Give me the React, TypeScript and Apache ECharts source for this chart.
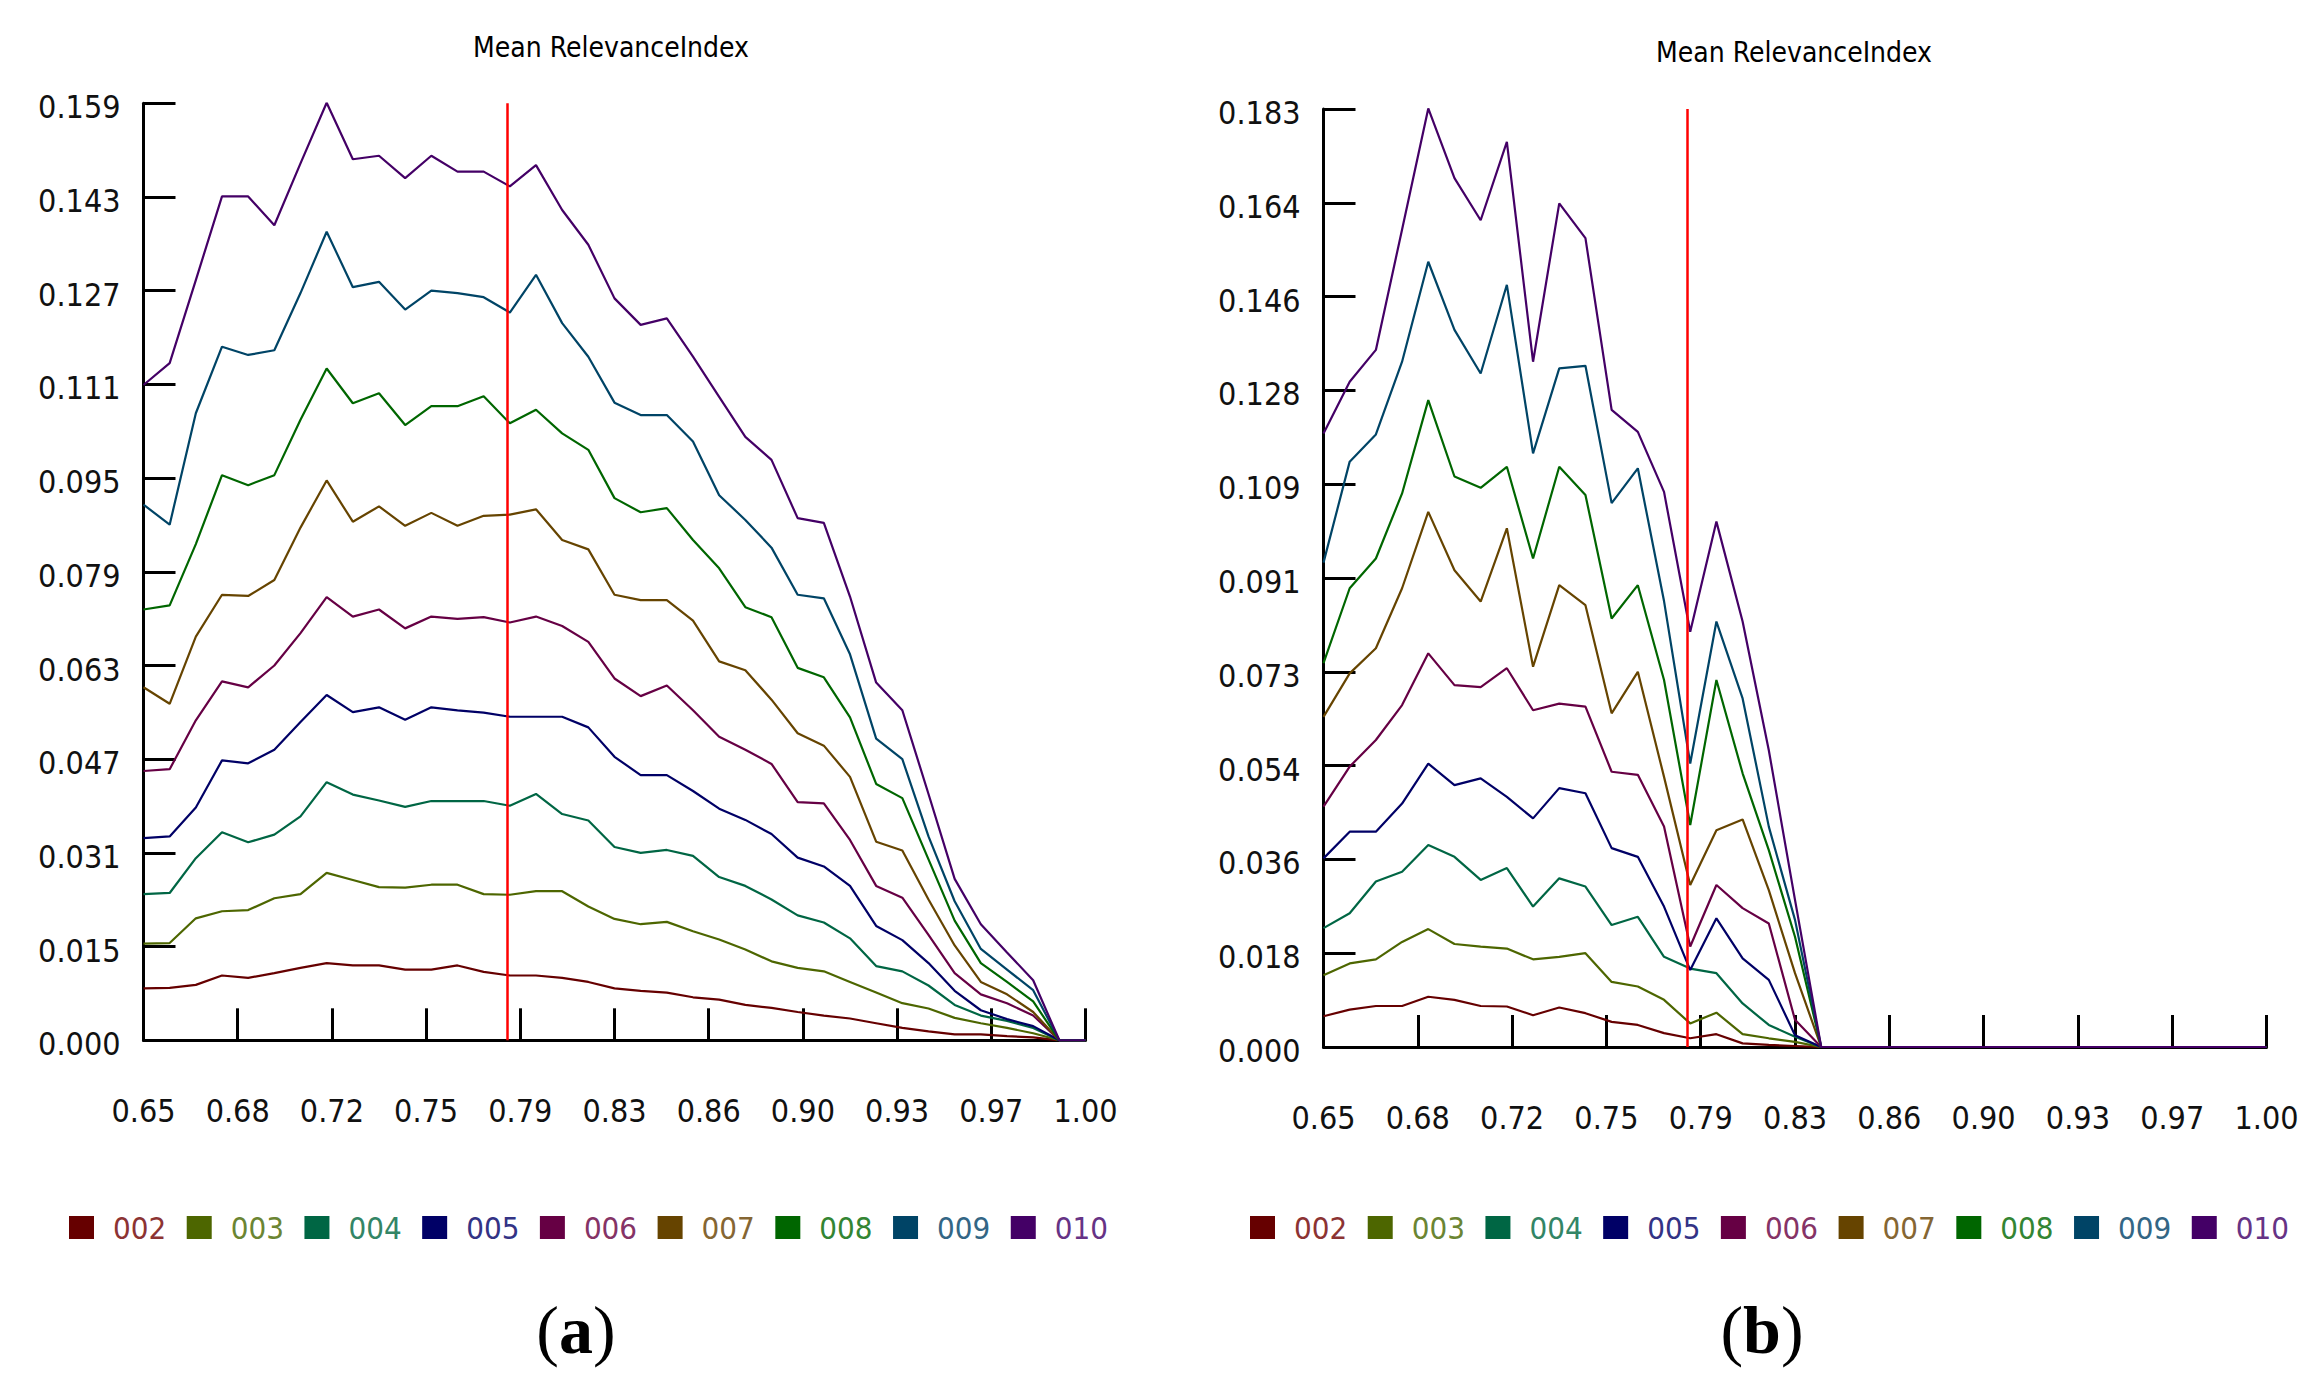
import React, { useEffect, useRef } from 'react';
import * as echarts from 'echarts';

// series shown in both panels, one per legend entry
const seriesNames = ['002', '003', '004', '005', '006', '007', '008', '009', '010'];
const seriesColors = ['#660000', '#4d6600', '#006644', '#000066', '#660044', '#664400', '#006600', '#004466', '#440066'];
const legendTextColors = ['#8c3333', '#6b8533', '#338566', '#333385', '#853366', '#856633', '#338533', '#336685', '#663385'];

// x positions are sample indices 0..36 spanning 0.65..1.00
const xTickLabels = ['0.65', '0.68', '0.72', '0.75', '0.79', '0.83', '0.86', '0.90', '0.93', '0.97', '1.00'];
const xMax = 36;
const cutoffIndex = 13.9;

const yTickLabelsA = ['0.000', '0.015', '0.031', '0.047', '0.063', '0.079', '0.095', '0.111', '0.127', '0.143', '0.159'];
const yTickLabelsB = ['0.000', '0.018', '0.036', '0.054', '0.073', '0.091', '0.109', '0.128', '0.146', '0.164', '0.183'];
const yMaxA = 0.159;
const yMaxB = 0.183;

// panel (a)
const a002 = [0.0088, 0.0089, 0.0094, 0.0110, 0.0106, 0.0114, 0.0123, 0.0131, 0.0127, 0.0127, 0.0120, 0.0120, 0.0127, 0.0116, 0.0110, 0.0110, 0.0106, 0.0099, 0.0088, 0.0084, 0.0081, 0.0073, 0.0069, 0.0060, 0.0055, 0.0048, 0.0042, 0.0037, 0.0029, 0.0021, 0.0015, 0.0010, 0.0010, 0.0007, 0.0005, 0, 0];
const a003 = [0.0164, 0.0165, 0.0207, 0.0219, 0.0221, 0.0241, 0.0248, 0.0284, 0.0272, 0.0260, 0.0259, 0.0264, 0.0264, 0.0248, 0.0247, 0.0253, 0.0253, 0.0227, 0.0206, 0.0197, 0.0201, 0.0185, 0.0171, 0.0154, 0.0134, 0.0123, 0.0117, 0.0099, 0.0081, 0.0063, 0.0054, 0.0038, 0.0029, 0.0021, 0.0012, 0, 0];
const a004 = [0.0248, 0.0250, 0.0309, 0.0353, 0.0336, 0.0349, 0.0380, 0.0438, 0.0417, 0.0407, 0.0396, 0.0406, 0.0406, 0.0406, 0.0398, 0.0418, 0.0384, 0.0373, 0.0328, 0.0318, 0.0323, 0.0313, 0.0277, 0.0262, 0.0239, 0.0212, 0.0200, 0.0173, 0.0126, 0.0117, 0.0093, 0.0060, 0.0042, 0.0033, 0.0021, 0, 0];
const a005 = [0.0343, 0.0346, 0.0395, 0.0475, 0.0470, 0.0493, 0.0540, 0.0586, 0.0557, 0.0565, 0.0544, 0.0565, 0.0560, 0.0556, 0.0549, 0.0549, 0.0549, 0.0531, 0.0481, 0.0450, 0.0450, 0.0423, 0.0393, 0.0374, 0.0350, 0.0310, 0.0295, 0.0262, 0.0194, 0.0170, 0.0131, 0.0084, 0.0051, 0.0036, 0.0024, 0, 0];
const a006 = [0.0457, 0.0460, 0.0543, 0.0609, 0.0599, 0.0636, 0.0691, 0.0752, 0.0719, 0.0731, 0.0699, 0.0719, 0.0715, 0.0718, 0.0709, 0.0719, 0.0703, 0.0676, 0.0614, 0.0584, 0.0602, 0.0560, 0.0515, 0.0493, 0.0469, 0.0404, 0.0402, 0.0340, 0.0262, 0.0242, 0.0179, 0.0114, 0.0078, 0.0063, 0.0042, 0, 0];
const a007 = [0.0599, 0.0571, 0.0685, 0.0756, 0.0754, 0.0781, 0.0870, 0.0950, 0.0880, 0.0906, 0.0873, 0.0895, 0.0873, 0.0890, 0.0892, 0.0901, 0.0849, 0.0833, 0.0756, 0.0747, 0.0747, 0.0712, 0.0643, 0.0628, 0.0578, 0.0521, 0.0500, 0.0447, 0.0337, 0.0322, 0.0239, 0.0161, 0.0099, 0.0078, 0.0048, 0, 0];
const a008 = [0.0731, 0.0738, 0.0842, 0.0959, 0.0942, 0.0959, 0.1053, 0.1140, 0.1081, 0.1098, 0.1044, 0.1076, 0.1076, 0.1093, 0.1047, 0.1070, 0.1030, 0.1002, 0.0920, 0.0896, 0.0903, 0.0849, 0.0801, 0.0735, 0.0718, 0.0632, 0.0616, 0.0548, 0.0435, 0.0411, 0.0307, 0.0203, 0.0131, 0.0099, 0.0066, 0, 0];
const a009 = [0.0909, 0.0875, 0.1064, 0.1177, 0.1163, 0.1171, 0.1268, 0.1372, 0.1278, 0.1287, 0.1240, 0.1272, 0.1268, 0.1261, 0.1235, 0.1299, 0.1217, 0.1160, 0.1082, 0.1061, 0.1061, 0.1016, 0.0925, 0.0883, 0.0836, 0.0756, 0.0750, 0.0655, 0.0512, 0.0477, 0.0346, 0.0236, 0.0155, 0.0120, 0.0085, 0, 0];
const a010 = [0.1112, 0.1149, 0.1290, 0.1432, 0.1432, 0.1383, 0.1488, 0.1591, 0.1495, 0.1501, 0.1463, 0.1501, 0.1474, 0.1474, 0.1449, 0.1485, 0.1409, 0.1350, 0.1259, 0.1214, 0.1225, 0.1160, 0.1092, 0.1024, 0.0985, 0.0886, 0.0878, 0.0753, 0.0607, 0.0560, 0.0418, 0.0274, 0.0197, 0.0149, 0.0102, 0, 0];

// panel (b)
const b002 = [0.0060, 0.0073, 0.0080, 0.0080, 0.0098, 0.0092, 0.0080, 0.0079, 0.0062, 0.0077, 0.0066, 0.0049, 0.0043, 0.0027, 0.0017, 0.0025, 0.0007, 0.0004, 0.0002, 0, 0, 0, 0, 0, 0, 0, 0, 0, 0, 0, 0, 0, 0, 0, 0, 0, 0];
const b003 = [0.0140, 0.0163, 0.0171, 0.0205, 0.0230, 0.0201, 0.0196, 0.0192, 0.0171, 0.0176, 0.0183, 0.0127, 0.0118, 0.0092, 0.0046, 0.0067, 0.0025, 0.0017, 0.0010, 0, 0, 0, 0, 0, 0, 0, 0, 0, 0, 0, 0, 0, 0, 0, 0, 0, 0];
const b004 = [0.0232, 0.0261, 0.0323, 0.0342, 0.0394, 0.0371, 0.0326, 0.0349, 0.0274, 0.0329, 0.0313, 0.0238, 0.0254, 0.0176, 0.0153, 0.0144, 0.0085, 0.0043, 0.0020, 0, 0, 0, 0, 0, 0, 0, 0, 0, 0, 0, 0, 0, 0, 0, 0, 0, 0];
const b005 = [0.0368, 0.0420, 0.0420, 0.0475, 0.0553, 0.0511, 0.0524, 0.0488, 0.0446, 0.0505, 0.0495, 0.0388, 0.0371, 0.0274, 0.0150, 0.0251, 0.0173, 0.0131, 0.0023, 0, 0, 0, 0, 0, 0, 0, 0, 0, 0, 0, 0, 0, 0, 0, 0, 0, 0];
const b006 = [0.0469, 0.0547, 0.0599, 0.0667, 0.0768, 0.0706, 0.0702, 0.0739, 0.0657, 0.0670, 0.0664, 0.0537, 0.0531, 0.0430, 0.0196, 0.0316, 0.0271, 0.0241, 0.0053, 0, 0, 0, 0, 0, 0, 0, 0, 0, 0, 0, 0, 0, 0, 0, 0, 0, 0];
const b007 = [0.0644, 0.0729, 0.0778, 0.0895, 0.1044, 0.0930, 0.0869, 0.1012, 0.0742, 0.0901, 0.0862, 0.0651, 0.0732, 0.0527, 0.0316, 0.0423, 0.0444, 0.0306, 0.0144, 0, 0, 0, 0, 0, 0, 0, 0, 0, 0, 0, 0, 0, 0, 0, 0, 0, 0];
const b008 = [0.0749, 0.0895, 0.0953, 0.1080, 0.1262, 0.1113, 0.1091, 0.1132, 0.0953, 0.1132, 0.1077, 0.0836, 0.0901, 0.0716, 0.0433, 0.0716, 0.0534, 0.0384, 0.0215, 0, 0, 0, 0, 0, 0, 0, 0, 0, 0, 0, 0, 0, 0, 0, 0, 0, 0];
const b009 = [0.0945, 0.1142, 0.1195, 0.1337, 0.1532, 0.1399, 0.1314, 0.1487, 0.1158, 0.1324, 0.1329, 0.1061, 0.1129, 0.0870, 0.0553, 0.0830, 0.0680, 0.0430, 0.0248, 0, 0, 0, 0, 0, 0, 0, 0, 0, 0, 0, 0, 0, 0, 0, 0, 0, 0];
const b010 = [0.1197, 0.1298, 0.1360, 0.1595, 0.1831, 0.1695, 0.1613, 0.1766, 0.1337, 0.1646, 0.1578, 0.1243, 0.1200, 0.1083, 0.0810, 0.1025, 0.0830, 0.0579, 0.0287, 0, 0, 0, 0, 0, 0, 0, 0, 0, 0, 0, 0, 0, 0, 0, 0, 0, 0];

const panelA = [a002, a003, a004, a005, a006, a007, a008, a009, a010];
const panelB = [b002, b003, b004, b005, b006, b007, b008, b009, b010];

const HAND = "'Liberation Sans Narrow', 'DejaVu Sans Condensed', 'Noto Sans', sans-serif";
const SERIF = "'Liberation Serif', 'DejaVu Serif', serif";

const xAxisFor = (gridIndex: number) => ({
  gridIndex,
  type: 'value' as const,
  min: 0,
  max: xMax,
  interval: xMax / 10,
  axisLine: { show: true, onZero: false, lineStyle: { color: '#000', width: 3 } },
  axisTick: { show: true, inside: true, length: 32, lineStyle: { color: '#000', width: 3 } },
  axisLabel: {
    margin: 55,
    color: '#111',
    fontFamily: HAND,
    fontSize: 32,
    formatter: (v: number) => xTickLabels[Math.round(v / (xMax / 10))] ?? '',
  },
  splitLine: { show: false },
});

const yAxisFor = (gridIndex: number, max: number, labels: string[]) => ({
  gridIndex,
  type: 'value' as const,
  min: 0,
  max,
  interval: max / 10,
  axisLine: { show: true, lineStyle: { color: '#000', width: 3 } },
  axisTick: { show: true, inside: true, length: 32, lineStyle: { color: '#000', width: 3 } },
  axisLabel: {
    margin: 23,
    color: '#111',
    fontFamily: HAND,
    fontSize: 32,
    verticalAlign: 'top',
    padding: [-12, 0, 0, 0],
    formatter: (v: number) => labels[Math.round(v / (max / 10))] ?? '',
  },
  splitLine: { show: false },
});

const seriesFor = (panel: number[][], axisIndex: number) =>
  panel.map((values, k) => ({
    type: 'line' as const,
    name: seriesNames[k],
    xAxisIndex: axisIndex,
    yAxisIndex: axisIndex,
    data: values.map((v, i) => [i, v]),
    symbol: 'none',
    silent: true,
    lineStyle: { color: seriesColors[k], width: 2.2 },
    itemStyle: { color: seriesColors[k] },
    markLine: k === 0 ? {
      silent: true,
      symbol: ['none', 'none'],
      label: { show: false },
      lineStyle: { color: '#ff0000', width: 2.5, type: 'solid' as const },
      data: [{ xAxis: cutoffIndex }],
    } : undefined,
  }));

const legendFor = (left: number) => ({
  left,
  top: 1212,
  width: 1100,
  orient: 'horizontal' as const,
  padding: 0,
  icon: 'rect',
  itemWidth: 25,
  itemHeight: 23,
  itemGap: 20.5,
  selectedMode: false,
  data: seriesNames.map((n, i) => ({ name: n, textStyle: { color: legendTextColors[i] } })),
  textStyle: { fontFamily: HAND, fontSize: 31, padding: [4, 0, 0, 14] },
});

const subLabel = (x: number, letter: string) => ({
  type: 'text' as const,
  x,
  y: 1330,
  style: {
    text: `{p|(}{b|${letter}}{p|)}`,
    textAlign: 'center',
    textVerticalAlign: 'middle',
    rich: {
      p: { fontFamily: SERIF, fontSize: 68, fill: '#000', color: '#000' },
      b: { fontFamily: SERIF, fontSize: 68, fontWeight: 'bold', fill: '#000', color: '#000' },
    },
  },
});

const App: React.FC = () => {
  const ref = useRef<HTMLDivElement>(null);

  useEffect(() => {
    if (!ref.current) return;
    const chart = echarts.init(ref.current, undefined, { renderer: 'svg' });

    const option: any = {
      animation: false,
      backgroundColor: '#fff',
      grid: [
        { left: 143.5, top: 103.3, width: 942, height: 937, outerBoundsMode: 'none' },
        { left: 1323.5, top: 109, width: 943, height: 938, outerBoundsMode: 'none' },
      ],
      xAxis: [xAxisFor(0), xAxisFor(1)],
      yAxis: [yAxisFor(0, yMaxA, yTickLabelsA), yAxisFor(1, yMaxB, yTickLabelsB)],
      legend: [legendFor(69), legendFor(1250)],
      series: [...seriesFor(panelA, 0), ...seriesFor(panelB, 1)],
      graphic: [
        {
          type: 'text', x: 611, y: 47,
          style: { text: 'Mean RelevanceIndex', font: `28px ${HAND}`, fill: '#000', textAlign: 'center', textVerticalAlign: 'middle' },
        },
        {
          type: 'text', x: 1794, y: 52,
          style: { text: 'Mean RelevanceIndex', font: `28px ${HAND}`, fill: '#000', textAlign: 'center', textVerticalAlign: 'middle' },
        },
        subLabel(576, 'a'),
        subLabel(1762, 'b'),
      ],
    };

    chart.setOption(option);
    return () => chart.dispose();
  }, []);

  return <div ref={ref} style={{ position: 'absolute', left: 0, top: 0, width: 2320, height: 1388 }} />;
};

export default App;
